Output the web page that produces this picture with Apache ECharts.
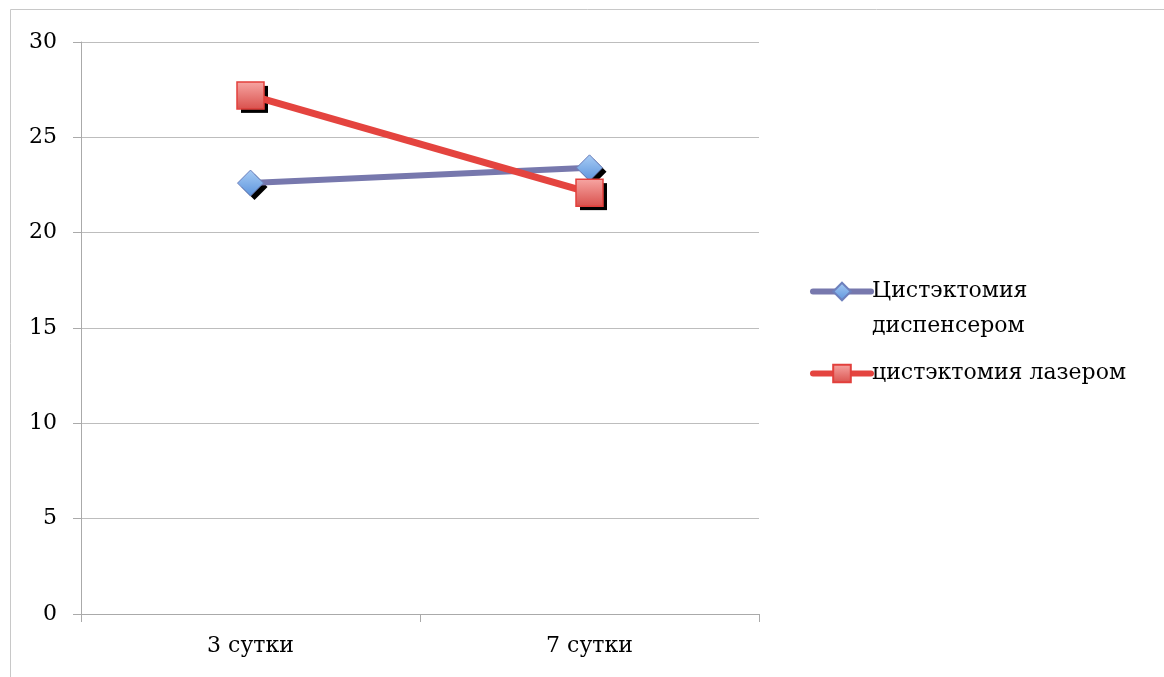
<!DOCTYPE html>
<html><head><meta charset="utf-8">
<script src="https://cdn.jsdelivr.net/npm/echarts@6/dist/echarts.min.js"></script>
<style>html,body{margin:0;padding:0;background:#fff}#c{width:1164px;height:677px}</style>
</head><body><div id="c"></div>
<script>
const categories = ['3 сутки', '7 сутки'];
const seriesNames = ['Цистэктомия диспенсером', 'цистэктомия лазером'];
const dispenserValues = [22.6, 23.4];
const laserValues = [27.2, 22.1];
const yTicks = [0, 5, 10, 15, 20, 25, 30];

const FONT = 'DejaVu Serif';
const FS = 22;
const chart = echarts.init(document.getElementById('c'), null, {renderer: 'canvas'});
const grad = (a, b) => new echarts.graphic.LinearGradient(0, 0, 0, 1, [{offset: 0, color: a}, {offset: 1, color: b}]);

function shadowSeries(name, data, symbol, size, z) {
  return {
    name: name, type: 'line', data: data, symbol: symbol, symbolSize: size,
    symbolOffset: [4, 4], lineStyle: {width: 0, opacity: 0},
    itemStyle: {color: '#000', borderWidth: 0}, z: z, silent: true
  };
}

chart.setOption({
  animation: false,
  backgroundColor: '#fff',
  textStyle: {fontFamily: FONT},
  graphic: [{
    type: 'rect', left: 8, top: 7, shape: {width: 1170, height: 690},
    style: {fill: 'none', stroke: '#c8c8c8', lineWidth: 1}, z: -1
  }],
  grid: {left: 81, right: 405, top: 42, bottom: 63},
  xAxis: {
    type: 'category', data: categories, boundaryGap: true,
    axisLine: {lineStyle: {color: '#aaa', width: 1}},
    axisTick: {show: true, length: 8, lineStyle: {color: '#aaa'}},
    axisLabel: {color: '#000', fontFamily: FONT, fontSize: FS, margin: 21}
  },
  yAxis: {
    type: 'value', min: yTicks[0], max: yTicks[yTicks.length - 1], interval: 5,
    axisLine: {show: true, lineStyle: {color: '#aaa', width: 1}},
    axisTick: {show: true, length: 8, lineStyle: {color: '#aaa'}},
    splitLine: {lineStyle: {color: '#bdbdbd', width: 1}},
    axisLabel: {color: '#000', fontFamily: FONT, fontSize: FS, margin: 24}
  },
  legend: {
    orient: 'vertical', left: 810, top: 239, padding: 0,
    itemWidth: 58, itemHeight: 22, itemGap: 12,
    lineStyle: {width: 6, cap: 'round'},
    textStyle: {fontFamily: FONT, fontSize: FS, color: '#000', lineHeight: 35, padding: [0, 0, 0, -4]},
    formatter: function (n) { return n === seriesNames[0] ? '\nЦистэктомия\nдиспенсером' : n; },
    data: seriesNames
  },
  series: [
    shadowSeries('s1', dispenserValues, 'diamond', 26, 1),
    {
      name: seriesNames[0], type: 'line', data: dispenserValues,
      symbol: 'diamond', symbolSize: 26,
      lineStyle: {color: '#7778ad', width: 6},
      itemStyle: {color: grad('#a9cdf5', '#5b93dc'), borderColor: '#6d80bd', borderWidth: 1},
      z: 2
    },
    shadowSeries('s2', laserValues, 'rect', 27, 3),
    {
      name: seriesNames[1], type: 'line', data: laserValues,
      symbol: 'rect', symbolSize: 27,
      lineStyle: {color: '#e4443f', width: 7},
      itemStyle: {color: grad('#f7a7a4', '#d9504c'), borderColor: '#e2403c', borderWidth: 1.5},
      z: 4
    }
  ]
});
</script></body></html>
